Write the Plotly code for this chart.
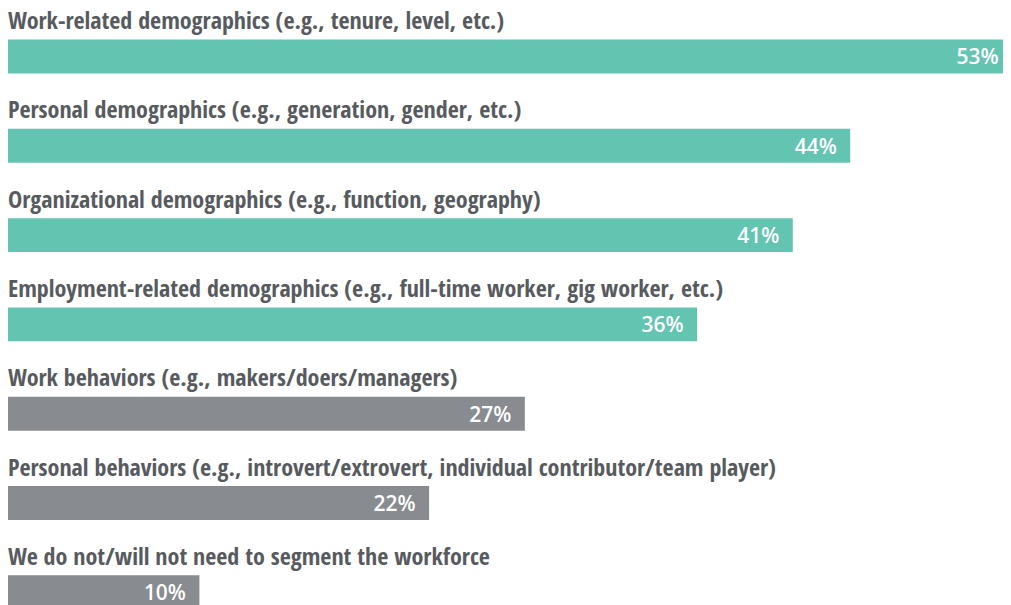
import plotly.graph_objects as go

categories = [
    "Work-related demographics (e.g., tenure, level, etc.)",
    "Personal demographics (e.g., generation, gender, etc.)",
    "Organizational demographics (e.g., function, geography)",
    "Employment-related demographics (e.g., full-time worker, gig worker, etc.)",
    "Work behaviors (e.g., makers/doers/managers)",
    "Personal behaviors (e.g., introvert/extrovert, individual contributor/team player)",
    "We do not/will not need to segment the workforce",
]
values = [53, 44, 41, 36, 27, 22, 10]
groups = ["demo", "demo", "demo", "demo", "behav", "behav", "none"]

TEAL = "#64C4B2"
GRAY = "#888B8F"
colors = [TEAL if g == "demo" else GRAY for g in groups]

X_MAX = 52.4  # visible part of the value axis (longest bar runs off the edge)

label_font = dict(family="Open Sans Condensed, Liberation Sans Narrow, Arial Narrow, sans-serif",
                  size=24, color="#575B60", weight="bold")
val_font = dict(family="Open Sans, sans-serif", size=21, color="white", weight=600)

# inside labels; keep the label of a bar that runs past the edge readable
texts = [f"{v}%\u2002" + ("\u2002" if v > X_MAX else "") for v in values]

fig = go.Figure()
fig.add_trace(go.Bar(
    y=categories, x=values, orientation="h",
    marker=dict(color=colors, line=dict(width=0)),
    width=0.38, hoverinfo="skip",
    text=texts,
    textposition="inside", insidetextanchor="end", textangle=0,
    insidetextfont=val_font, cliponaxis=True,
))

for c in categories:
    fig.add_annotation(x=0, y=c, xref="x", yref="y", text=c, showarrow=False,
                       xanchor="left", yanchor="middle", yshift=37, xshift=-2,
                       font=label_font)

fig.update_layout(
    width=1003, height=597,
    margin=dict(l=0, r=0, t=0, b=0),
    plot_bgcolor="white", paper_bgcolor="white",
    showlegend=False,
    uniformtext=dict(mode=False),
    xaxis=dict(range=[0, X_MAX], visible=False, fixedrange=True),
    yaxis=dict(type="category", categoryorder="array", categoryarray=categories,
               range=[6.142, -0.543], visible=False, fixedrange=True),
)

fig.write_html("out.html")
